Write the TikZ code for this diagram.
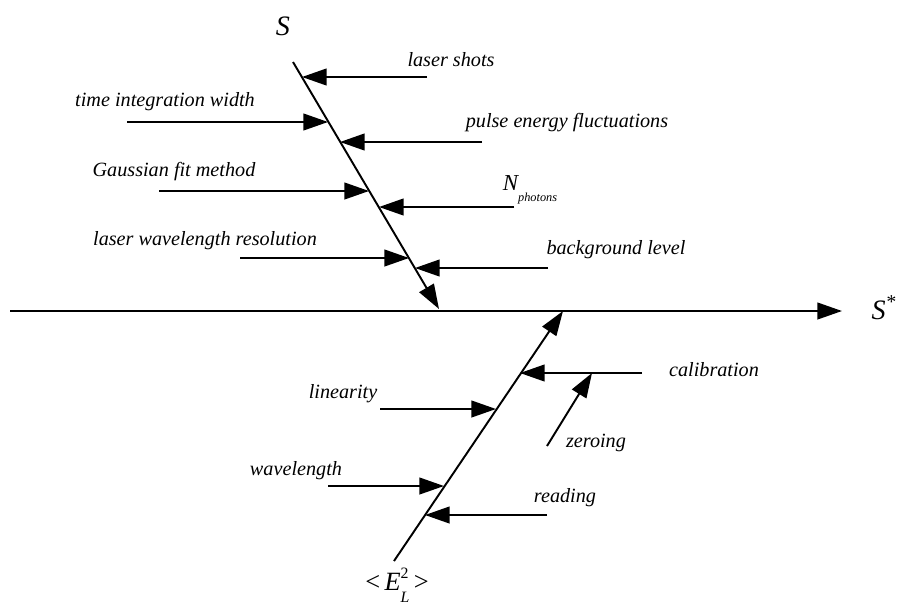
\documentclass[tikz,border=0pt]{standalone}
\usepackage{fontspec}
\setmainfont{Liberation Serif}
\usepackage{tikz}
\usetikzlibrary{arrows.meta,positioning,calc}
\tikzset{
  fish line/.style={
    line width=1.1pt,
    draw=black,
  },
  fish arrow/.style={
    -{Triangle[length=14pt,width=9.5pt]},
    line width=1.1pt,
    draw=black,
  },
  fish label/.style={
    font=\fontsize{11.5}{13}\selectfont\itshape,
    inner sep=1pt,
  },
  fish title/.style={
    font=\fontsize{16}{18}\selectfont\itshape,
    inner sep=1pt,
  },
}

\begin{document}
\begin{tikzpicture}[x=0.02cm,y=-0.02cm]
  \useasboundingbox (0,0) rectangle (898,609);

  % main axis
  \coordinate (axl) at (10,311);
  \coordinate (axr) at (842,311);
  \draw[fish arrow] (axl) -- (axr);
  \node[fish title] (sstar) at (884,308) {S\textsuperscript{*}};

  % upper bone
  \coordinate (utop) at (293,62);
  \coordinate (utip) at (439,309);
  \draw[fish arrow] (utop) -- (utip);
  \node[fish title] (s) at (283,26) {S};

  \node[fish label] (shots) at (451,60) {laser shots};
  \coordinate (shotsa) at (427,77);
  \coordinate (shotsb) at (302,77);
  \draw[fish arrow] (shotsa) -- (shotsb);

  \node[fish label] (tiw) at (165,102) {time integration width};
  \coordinate (tiwa) at (127,122);
  \coordinate (tiwb) at (328,122);
  \draw[fish arrow] (tiwa) -- (tiwb);

  \node[fish label] (pef) at (567,123) {pulse energy fluctuations};
  \coordinate (pefa) at (482,142);
  \coordinate (pefb) at (340,142);
  \draw[fish arrow] (pefa) -- (pefb);

  \node[fish label] (gfm) at (174,172) {Gaussian fit method};
  \coordinate (gfma) at (159,191);
  \coordinate (gfmb) at (369,191);
  \draw[fish arrow] (gfma) -- (gfmb);

  \node[fish label, font=\fontsize{13}{15}\selectfont\itshape] (nph) at (530,190)
    {N\raisebox{-1.1ex}{\fontsize{7}{8}\selectfont photons}};
  \coordinate (npha) at (514,207);
  \coordinate (nphb) at (379,207);
  \draw[fish arrow] (npha) -- (nphb);

  \node[fish label] (lwr) at (205,241) {laser wavelength resolution};
  \coordinate (lwra) at (240,258);
  \coordinate (lwrb) at (409,258);
  \draw[fish arrow] (lwra) -- (lwrb);

  \node[fish label] (bgl) at (616,250) {background level};
  \coordinate (bgla) at (548,268);
  \coordinate (bglb) at (415,268);
  \draw[fish arrow] (bgla) -- (bglb);

  % lower bone
  \coordinate (lbot) at (394,561);
  \coordinate (ltip) at (563,311);
  \draw[fish arrow] (lbot) -- (ltip);
  \node[fish title, font=\fontsize{15}{17}\selectfont] (e2) at (397,585)
    {<\,\textit{E}\raisebox{1.0ex}{\fontsize{9}{10}\selectfont 2}\hspace{-0.3em}\raisebox{-1.0ex}{\fontsize{9}{10}\selectfont\textit{L}}\,>};

  \node[fish label] (lin) at (343,394) {linearity};
  \coordinate (lina) at (380,409);
  \coordinate (linb) at (496,409);
  \draw[fish arrow] (lina) -- (linb);

  \node[fish label] (wl) at (296,471) {wavelength};
  \coordinate (wla) at (328,486);
  \coordinate (wlb) at (444,486);
  \draw[fish arrow] (wla) -- (wlb);

  \node[fish label] (rd) at (565,498) {reading};
  \coordinate (rda) at (547,515);
  \coordinate (rdb) at (425,515);
  \draw[fish arrow] (rda) -- (rdb);

  \node[fish label] (cal) at (714,370) {calibration};
  \coordinate (cala) at (642,373);
  \coordinate (calm) at (592,373);
  \coordinate (calb) at (520,373);
  \draw[fish arrow] (cala) -- (calb);

  \node[fish label] (zer) at (596,443) {zeroing};
  \coordinate (zera) at (547,446);
  \draw[fish arrow] (zera) -- (calm);
\end{tikzpicture}
\end{document}
